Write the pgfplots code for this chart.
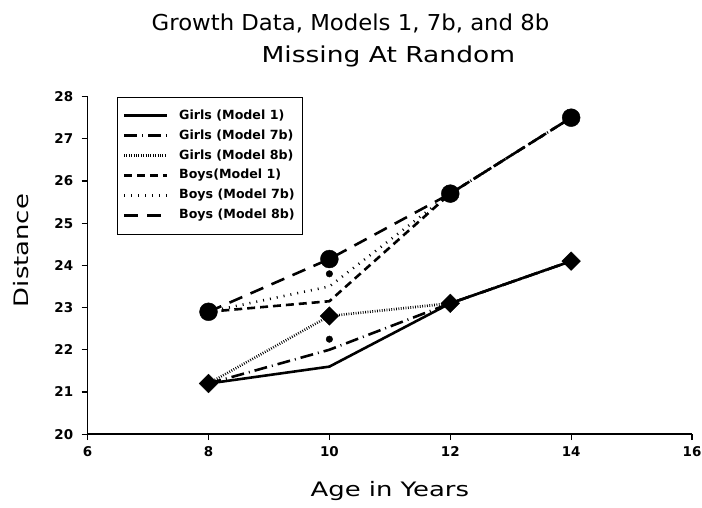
\documentclass[border=0pt]{standalone}
\usepackage{pgfplots}
\pgfplotsset{compat=1.18}
\usepackage{fontspec}
\setmainfont{DejaVu Sans}
\newfontfamily\titlefont[FakeStretch=1.04]{DejaVu Sans}
\newfontfamily\titlefontwide[FakeStretch=1.21]{DejaVu Sans}
\newfontfamily\labelfont[FakeStretch=1.3]{DejaVu Sans}

\begin{document}
\begin{tikzpicture}
\useasboundingbox (-88pt,-74pt) rectangle (617pt,436pt);
\begin{axis}[
  at={(0pt,0pt)}, anchor=south west,
  scale only axis, width=607pt, height=339pt,
  xmin=6, xmax=16, ymin=20, ymax=28,
  xtick={6,8,...,16}, ytick={20,21,...,28},
  axis x line*=bottom, axis y line*=left,
  axis line style={line width=1.6pt, -},
  tick align=outside, major tick length=6pt,
  tick style={line width=1.2pt, black},
  /pgf/number format/assume math mode=true,
  ticklabel style={font=\bfseries\fontsize{13.5}{13.5}\selectfont},
  xticklabel style={yshift=-3pt},
  yticklabel style={xshift=-5pt},
  xlabel={\labelfont Age in Years},
  ylabel={\labelfont Distance},
  xlabel style={at={(axis description cs:0.5,-0.168)}, anchor=center, font=\fontsize{20}{20}\selectfont},
  ylabel style={at={(axis description cs:-0.110,0.544)}, anchor=center, rotate=0, font=\fontsize{20}{20}\selectfont},
  legend style={at={(axis description cs:0.048,1)}, anchor=north west,
    draw=black, font=\bfseries\fontsize{12.7}{12.7}\selectfont,
    inner xsep=6pt, inner ysep=9pt, row sep=0pt,
    nodes={text height=9.5pt, text depth=2.5pt, inner ysep=4pt},
    /tikz/every odd column/.append style={column sep=9pt}},
  legend cell align=left,
  legend image code/.code={\draw[#1] (0pt,0pt) -- (43pt,0pt);},
]
% fitted mean profiles
\addplot[black, line width=2.6pt] coordinates {(8,21.2) (10,21.6) (12,23.1) (14,24.1)};
\addlegendentry{Girls (Model 1)}
\addplot[black, line width=2.6pt, dash pattern=on 13pt off 5pt on 1pt off 5pt] coordinates {(8,21.2) (10,22.0) (12,23.1) (14,24.1)};
\addlegendentry{Girls (Model 7b)\hspace{3pt}}
\addplot[black, line width=2.6pt, dash pattern=on 0.8pt off 1.6pt] coordinates {(8,21.2) (10,22.8) (12,23.1) (14,24.1)};
\addlegendentry{Girls (Model 8b)}
\addplot[black, line width=2.6pt, dash pattern=on 8pt off 5pt] coordinates {(8,22.9) (10,23.15) (12,25.7) (14,27.5)};
\addlegendentry{Boys(Model 1)}
\addplot[black, line width=2.6pt, dash pattern=on 1pt off 6pt] coordinates {(8,22.9) (10,23.5) (12,25.7) (14,27.5)};
\addlegendentry{Boys (Model 7b)}
\addplot[black, line width=2.6pt, dash pattern=on 14pt off 9pt] coordinates {(8,22.9) (10,24.15) (12,25.7) (14,27.5)};
\addlegendentry{Boys (Model 8b)}
% observed means
\addplot[forget plot, only marks, mark=square*, mark size=6.6pt, mark options={rotate=45, fill=black, draw=black}] coordinates {(8,21.2) (10,22.8) (12,23.1) (14,24.1)};
\addplot[forget plot, only marks, mark=*, mark size=9pt, mark options={fill=black, draw=black}] coordinates {(8,22.9) (10,24.15) (12,25.7) (14,27.5)};
\addplot[forget plot, only marks, mark=*, mark size=3.3pt, mark options={fill=black, draw=black}] coordinates {(10,22.25) (10,23.8)};
\end{axis}
\node[font=\titlefont\fontsize{22}{22}\selectfont] at (264pt,412pt) {Growth Data, Models 1, 7b, and 8b};
\node[font=\titlefontwide\fontsize{22}{22}\selectfont] at (302pt,379pt) {Missing At Random};
\end{tikzpicture}
\end{document}
